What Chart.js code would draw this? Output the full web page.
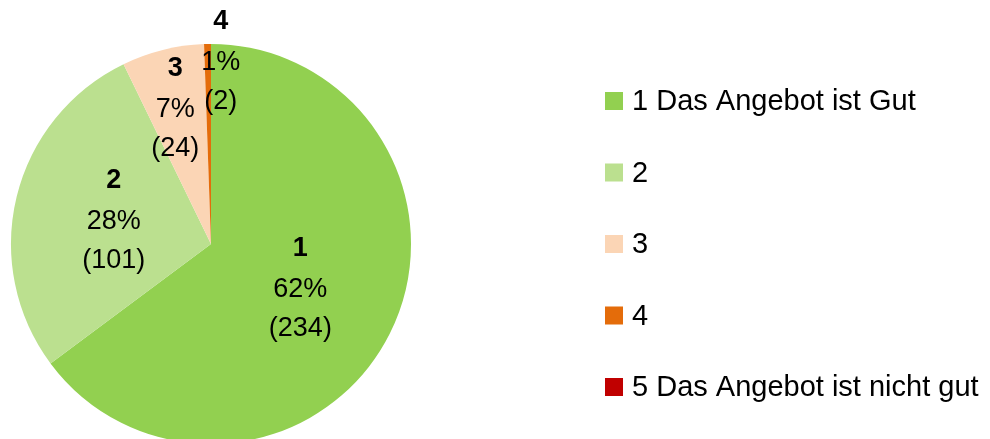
<!DOCTYPE html>
<html>
<head>
<meta charset="utf-8">
<script src="https://cdn.jsdelivr.net/npm/chart.js@4"></script>
<style>
  html, body { margin: 0; padding: 0; background: #ffffff; overflow: hidden; }
  #wrap { position: relative; width: 990px; height: 444px; }
</style>
</head>
<body>
<div id="wrap"><canvas id="PieChart"></canvas></div>
<script>
// chart data
const categories = ['1 Das Angebot ist Gut', '2', '3', '4', '5 Das Angebot ist nicht gut'];
const shortNames = ['1', '2', '3', '4', '5'];
const counts     = [234, 101, 24, 2, 0];
const percents   = ['62%', '28%', '7%', '1%', '0%'];

(function () {
  "use strict";

  // colors
  const sliceColors = ['#92d050', '#bbe08f', '#fbd5b5', '#e46c0a', '#c00000'];
  const text_color  = '#000000';
  const font_family = '"Liberation Sans", Arial, sans-serif';

  // where to put the slice labels (fraction of radius, x shift)
  const labelRadius = [0.5, 0.5, 0.7, 0.91, 0.5];
  const labelShift  = [0, 0, -2, 13, 0];

  // data labels drawn on top of the arcs
  const sliceLabels = {
    id: 'sliceLabels',
    afterDatasetsDraw(chart) {
      const ctx = chart.ctx;
      const meta = chart.getDatasetMeta(0);
      ctx.save();
      ctx.fillStyle = text_color;
      ctx.textAlign = 'center';
      ctx.textBaseline = 'middle';
      meta.data.forEach(function (arc, i) {
        if (!counts[i]) return;
        const mid = (arc.startAngle + arc.endAngle) / 2;
        const r = arc.outerRadius * labelRadius[i];
        const x = arc.x + Math.cos(mid) * r + labelShift[i];
        const y = arc.y + Math.sin(mid) * r;
        ctx.font = 'bold 27px ' + font_family;
        ctx.fillText(shortNames[i], x, y - 40);
        ctx.font = '27px ' + font_family;
        ctx.fillText(percents[i], x, y + 1);
        ctx.fillText('(' + counts[i] + ')', x, y + 40);
      });
      ctx.restore();
    }
  };

  // legend on the right side
  const sideLegend = {
    id: 'sideLegend',
    afterDraw(chart) {
      const ctx = chart.ctx;
      ctx.save();
      ctx.font = '29px ' + font_family;
      ctx.textBaseline = 'middle';
      ctx.textAlign = 'left';
      categories.forEach(function (name, i) {
        const y = 101 + i * 71.5;
        ctx.fillStyle = sliceColors[i];
        ctx.fillRect(605, y - 9, 18, 18);
        ctx.fillStyle = text_color;
        ctx.fillText(name, 632, y + 1);
      });
      ctx.restore();
    }
  };

  const chart_pie = document.getElementById('PieChart');
  const ctp = chart_pie.getContext('2d');

  new Chart(ctp, {
    type: 'pie',
    data: {
      labels: categories,
      datasets: [{
        data: counts,
        backgroundColor: sliceColors,
        borderWidth: 0
      }]
    },
    options: {
      responsive: true,
      maintainAspectRatio: false,
      animation: false,
      layout: {
        padding: { left: 11, right: 579, top: 44, bottom: 0 }
      },
      plugins: {
        legend: { display: false },
        tooltip: { enabled: false }
      }
    },
    plugins: [sliceLabels, sideLegend]
  });
})();
</script>
</body>
</html>
